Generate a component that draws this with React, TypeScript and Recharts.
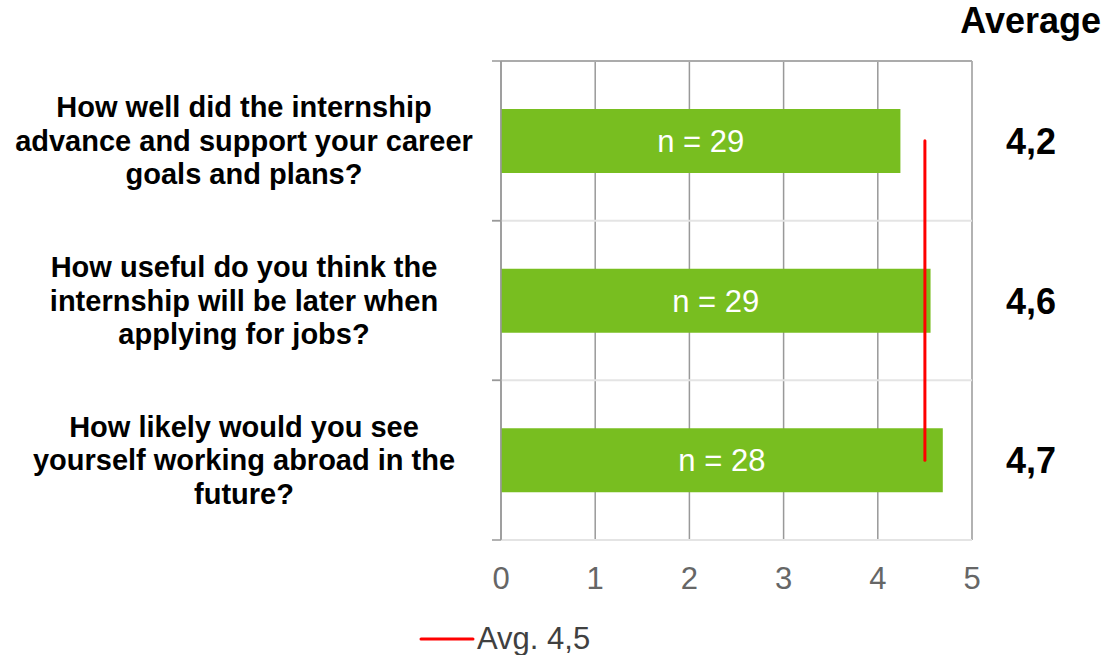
import {
  ComposedChart, Bar, Line, XAxis, YAxis, CartesianGrid, Legend, LabelList,
} from 'recharts';

const questions = [
  ['How well did the internship', 'advance and support your career', 'goals and plans?'],
  ['How useful do you think the', 'internship will be later when', 'applying for jobs?'],
  ['How likely would you see', 'yourself working abroad in the', 'future?'],
];
const averages = [4.24, 4.56, 4.69];
const averageLabels = ['4,2', '4,6', '4,7'];
const respondents = [29, 29, 28];
const overallAvg = 4.5;
const xTicks = [0, 1, 2, 3, 4, 5];
const rowBounds = [0, 1, 2, 3];

const data = questions.map((q, i) => ({
  name: q.join(' '),
  lines: q,
  value: averages[i],
  nLabel: `n = ${respondents[i]}`,
  avgLabel: averageLabels[i],
  avg: overallAvg,
}));

const font = '"Liberation Sans", Arial, sans-serif';
const AXIS_X = 501;

const EmptyTick = () => <g />;

function QuestionTick(props: any) {
  const { y, payload } = props;
  const lines: string[] = data[payload.index]?.lines ?? [];
  const half = payload.offset || 80;
  const step = 33.5;
  const start = y - ((lines.length - 1) * step) / 2;
  return (
    <g>
      <line x1={AXIS_X - 9} x2={AXIS_X} y1={y - half} y2={y - half} stroke="#999" strokeWidth={1.5} />
      <line x1={AXIS_X - 9} x2={AXIS_X} y1={y + half} y2={y + half} stroke="#999" strokeWidth={1.5} />
      <text x={244} y={start} textAnchor="middle" fontSize={29} fontWeight="bold" fill="#000" fontFamily={font}>
        {lines.map((l, i) => (
          <tspan key={i} x={244} y={start + i * step} dy="0.35em">{l}</tspan>
        ))}
      </text>
    </g>
  );
}

function AvgValue(props: any) {
  const { y, height, value } = props;
  return (
    <text x={1031} y={y + height / 2} dy="0.36em" textAnchor="middle" fontSize={36} fontWeight="bold" fill="#000" fontFamily={font}>
      {value}
    </text>
  );
}

function LegendContent() {
  return (
    <div style={{ display: 'flex', alignItems: 'center', justifyContent: 'flex-start', paddingLeft: 419, fontFamily: font }}>
      <svg width={56} height={6}><line x1={2} y1={3} x2={54} y2={3} stroke="#ff0000" strokeWidth={3} strokeLinecap="round" /></svg>
      <span style={{ fontSize: 31, color: '#404040', marginLeft: 2 }}>Avg. 4,5</span>
    </div>
  );
}

const rowLines = ({ offset }: any) =>
  rowBounds.map((r) => offset.top + (offset.height * r) / (rowBounds.length - 1));

export default function App() {
  return (
    <div style={{ position: 'absolute', left: 0, top: 0, width: 1105, height: 655, background: '#fff', fontFamily: font }}>
      <div style={{ position: 'absolute', right: 4, top: 0, fontSize: 36, fontWeight: 'bold', color: '#000' }}>Average</div>
      <ComposedChart
        width={1105}
        height={655}
        layout="vertical"
        data={data}
        margin={{ top: 52, right: 133, left: 0, bottom: 0 }}
      >
        <CartesianGrid horizontal={false} stroke="#999" strokeWidth={1.5} />
        <CartesianGrid vertical={false} horizontalCoordinatesGenerator={rowLines} stroke="#e4e4e4" strokeWidth={2} />
        <XAxis
          type="number"
          domain={[0, 5]}
          ticks={xTicks}
          height={115}
          axisLine={false}
          tickLine={false}
          tickMargin={21}
          tick={{ fontSize: 31, fill: '#666', fontFamily: font }}
        />
        <XAxis
          xAxisId="top"
          orientation="top"
          type="number"
          domain={[0, 5]}
          ticks={xTicks}
          interval={0}
          height={9}
          tick={EmptyTick}
          tickSize={9}
          axisLine={{ stroke: '#999', strokeWidth: 1.5 }}
          tickLine={{ stroke: '#999', strokeWidth: 1.5 }}
        />
        <YAxis
          yAxisId="q"
          type="category"
          dataKey="name"
          width={AXIS_X}
          interval={0}
          axisLine={{ stroke: '#999', strokeWidth: 1.5 }}
          tickLine={false}
          tick={<QuestionTick />}
        />
        <Bar yAxisId="q" dataKey="value" fill="#78be20" barSize={64} isAnimationActive={false} legendType="none">
          <LabelList dataKey="nLabel" position="center" fill="#fff" fontSize={31} fontFamily={font} />
          <LabelList dataKey="avgLabel" content={<AvgValue />} />
        </Bar>
        <Line
          yAxisId="q"
          dataKey="avg"
          name="Avg. 4,5"
          stroke="#ff0000"
          strokeWidth={3}
          strokeLinecap="round"
          dot={false}
          activeDot={false}
          isAnimationActive={false}
        />
        <Legend
          content={<LegendContent />}
          wrapperStyle={{ left: 0, top: 621, width: 1105, height: 0, overflow: 'visible' }}
        />
      </ComposedChart>
    </div>
  );
}
